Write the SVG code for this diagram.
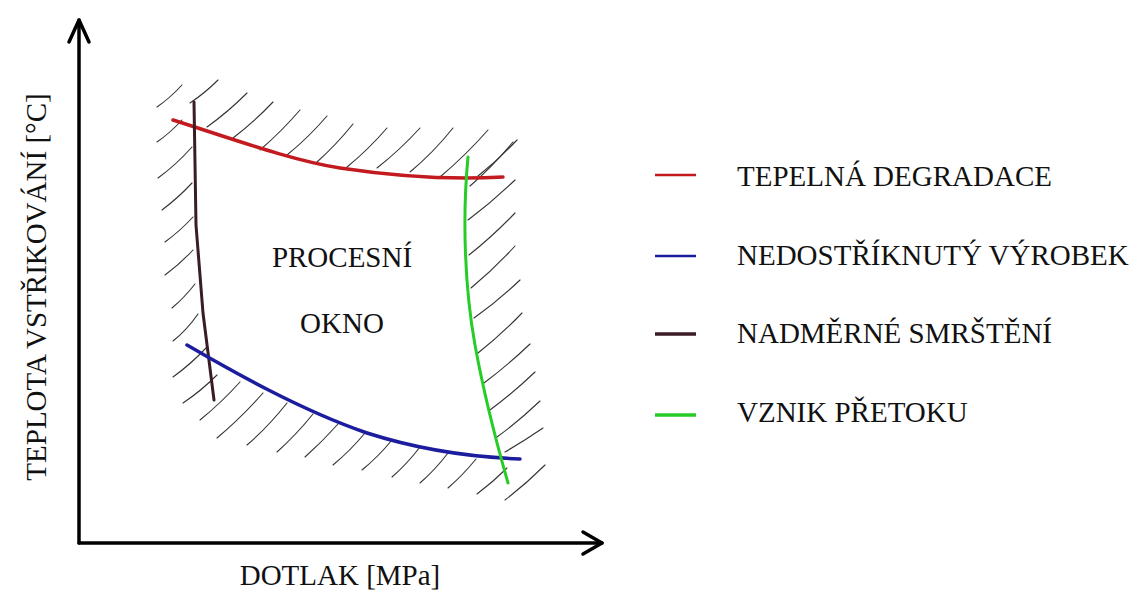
<svg xmlns="http://www.w3.org/2000/svg" width="1141" height="590" viewBox="0 0 1141 590">
  <style>
    text { font-family: "Liberation Serif", serif; font-size: 29px; fill: #111; }
    .axis { fill: none; stroke: #000; stroke-width: 3.5; stroke-linecap: round; stroke-linejoin: round; }
    .hatch path { fill: none; stroke: #333; stroke-width: 1.1; stroke-linecap: round; }
    .curve { fill: none; stroke-linecap: round; stroke-linejoin: round; }
    .red { stroke: #c21a1f; }
    .blue { stroke: #1c1c9e; }
    .brown { stroke: #3a1c24; }
    .green { stroke: #27cc27; }
  </style>

  <rect width="1141" height="590" fill="#fff"/>

  <!-- axes -->
  <g id="axes">
    <path class="axis" d="M79,543 L79,20"/>
    <path class="axis" d="M69,42 L79,20 L89,42"/>
    <path class="axis" d="M79,543 L602,543"/>
    <path class="axis" d="M583,532 L602,543 L583,554"/>
    <text id="y-label" font-family="Liberation Serif, serif" transform="translate(46,287) rotate(-90)" text-anchor="middle">TEPLOTA VSTŘIKOVÁNÍ [°C]</text>
    <text id="x-label" font-family="Liberation Serif, serif" x="340" y="585" text-anchor="middle">DOTLAK [MPa]</text>
  </g>

  <!-- hatching outside the process window -->
  <g class="hatch" id="hatching">
    <!-- top -->
    <path d="M157,107 Q170,98 182,85"/>
    <path d="M190,103 Q205,93 218,80"/>
    <path d="M207,127 Q228,112 247,93"/>
    <path d="M233,138 Q254,122 273,102"/>
    <path d="M260,150 Q281,132 300,110"/>
    <path d="M287,155 Q308,138 327,116"/>
    <path d="M317,162 Q336,145 353,124"/>
    <path d="M347,167 Q368,150 387,128"/>
    <path d="M377,168 Q400,150 420,128"/>
    <path d="M410,172 Q433,153 453,128"/>
    <path d="M440,177 Q465,156 488,130"/>
    <path d="M478,176 Q498,160 517,140"/>
    <!-- left -->
    <path d="M157,142 Q170,133 182,120"/>
    <path d="M158,178 Q176,165 192,147"/>
    <path d="M162,210 Q178,198 192,183"/>
    <path d="M165,242 Q180,231 193,217"/>
    <path d="M165,275 Q180,264 193,250"/>
    <path d="M172,308 Q184,298 195,284"/>
    <path d="M173,341 Q187,330 198,314"/>
    <path d="M173,377 Q191,364 207,347"/>
    <!-- bottom -->
    <path d="M183,403 Q201,391 217,375"/>
    <path d="M200,420 Q221,403 240,382"/>
    <path d="M217,438 Q241,418 263,393"/>
    <path d="M247,445 Q268,427 287,403"/>
    <path d="M277,452 Q296,435 313,414"/>
    <path d="M305,457 Q322,442 338,424"/>
    <path d="M333,465 Q350,451 365,433"/>
    <path d="M362,470 Q378,457 392,440"/>
    <path d="M392,477 Q407,464 420,447"/>
    <path d="M420,483 Q435,470 448,453"/>
    <path d="M448,488 Q463,475 476,459"/>
    <path d="M477,494 Q493,482 507,468"/>
    <path d="M505,500 Q526,484 545,465"/>
    <!-- right -->
    <path d="M470,186 Q493,166 513,142"/>
    <path d="M468,220 Q492,202 515,180"/>
    <path d="M469,255 Q493,236 515,213"/>
    <path d="M471,288 Q494,269 515,246"/>
    <path d="M474,318 Q498,301 520,280"/>
    <path d="M478,353 Q501,335 522,313"/>
    <path d="M484,383 Q508,365 530,344"/>
    <path d="M490,410 Q513,393 535,372"/>
    <path d="M497,437 Q519,421 540,401"/>
    <path d="M505,452 Q524,441 543,428"/>
  </g>

  <!-- boundary curves -->
  <g id="connectors">
    <path id="tepelna-degradace" class="curve red" stroke-width="3.5" d="M173,120 C230,138 290,160 340,168 C400,177 450,180 503,177"/>
    <path id="nadmerne-smrsteni" class="curve brown" stroke-width="3" d="M194,102 L196,225 L203,313 L214,400"/>
    <path id="nedostriknuty-vyrobek" class="curve blue" stroke-width="3.5" d="M187,345 C230,370 300,410 367,433 C420,450 470,457 520,459"/>
    <path id="vznik-pretoku" class="curve green" stroke-width="3" d="M468,157 C462,220 465,290 475,345 C485,400 500,455 508,483"/>
  </g>

  <!-- inner label -->
  <g id="procesni-okno">
    <text font-family="Liberation Serif, serif" x="342" y="267" text-anchor="middle">PROCESNÍ</text>
    <text font-family="Liberation Serif, serif" x="342" y="333" text-anchor="middle">OKNO</text>
  </g>

  <!-- legend -->
  <g id="legend">
    <g id="legend-red">
      <line x1="655" y1="175" x2="696" y2="175" stroke="#c21a1f" stroke-width="2.5"/>
      <text font-family="Liberation Serif, serif" x="737" y="186">TEPELNÁ DEGRADACE</text>
    </g>
    <g id="legend-blue">
      <line x1="655" y1="256" x2="696" y2="256" stroke="#1c1c9e" stroke-width="2.5"/>
      <text font-family="Liberation Serif, serif" x="737" y="265">NEDOSTŘÍKNUTÝ VÝROBEK</text>
    </g>
    <g id="legend-brown">
      <line x1="655" y1="334" x2="696" y2="334" stroke="#3a1c24" stroke-width="3.5"/>
      <text font-family="Liberation Serif, serif" x="737" y="343">NADMĚRNÉ SMRŠTĚNÍ</text>
    </g>
    <g id="legend-green">
      <line x1="655" y1="415" x2="696" y2="415" stroke="#27cc27" stroke-width="3.5"/>
      <text font-family="Liberation Serif, serif" x="737" y="422">VZNIK PŘETOKU</text>
    </g>
  </g>
</svg>
